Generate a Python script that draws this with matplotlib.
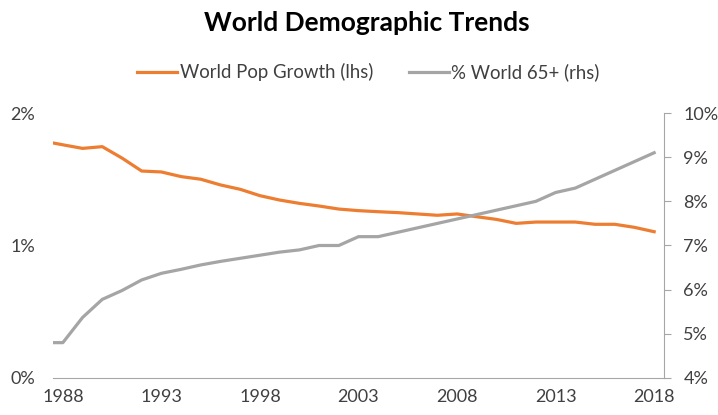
import numpy as np
import matplotlib.pyplot as plt
from matplotlib.ticker import FuncFormatter

# x positions: the series start half a year before the first labelled year
years = np.r_[1987.5, np.arange(1988, 2019)]

# world population growth, % (left axis)
pop_growth = [1.774, 1.76, 1.733, 1.746, 1.66, 1.562, 1.555, 1.52, 1.50, 1.457,
              1.424, 1.376, 1.343, 1.318, 1.298, 1.275, 1.263, 1.255, 1.248,
              1.238, 1.228, 1.238, 1.217, 1.197, 1.167, 1.177, 1.177, 1.177,
              1.16, 1.16, 1.137, 1.104]

# share of world population aged 65+, % (right axis)
pct_65 = [4.8, 4.8, 5.37, 5.78, 5.98, 6.22, 6.37, 6.46, 6.56, 6.64, 6.71,
          6.78, 6.85, 6.9, 7.0, 7.0, 7.2, 7.2, 7.3, 7.4, 7.5, 7.6, 7.7, 7.8,
          7.9, 8.0, 8.2, 8.3, 8.5, 8.7, 8.9, 9.1]

year_ticks = [1988, 1993, 1998, 2003, 2008, 2013, 2018]

plt.rcParams['font.family'] = ['Lato', 'DejaVu Sans']
ORANGE = '#ED7D31'
GREY = '#A5A5A5'
TXT = '#404040'

fig = plt.figure(figsize=(7.18, 4.15), dpi=100)
ax = fig.add_axes([0.0738, 0.0892, 0.851, 0.6385])
ax2 = ax.twinx()

l1, = ax.plot(years, pop_growth, color=ORANGE, lw=2.3, label='World Pop Growth (lhs)')
l2, = ax2.plot(years, pct_65, color=GREY, lw=2.3, label='% World 65+ (rhs)')

ax.set_xlim(1987.5, 2018.5)
ax.set_ylim(0, 2)
ax2.set_ylim(4, 10)
ax.set_yticks([0, 1, 2])
ax2.set_yticks(range(4, 11))
ax.set_xticks(year_ticks)
pct = FuncFormatter(lambda v, p: f'{v:.0f}%')
ax.yaxis.set_major_formatter(pct)
ax2.yaxis.set_major_formatter(pct)

for a in (ax, ax2):
    for s in a.spines.values():
        s.set_visible(False)
ax.spines['bottom'].set_visible(True)
ax.spines['bottom'].set_color('#A6A6A6')
ax2.spines['right'].set_visible(True)
ax2.spines['right'].set_color('#A6A6A6')

ax.tick_params(axis='y', length=0, pad=13, labelsize=13, labelcolor=TXT)
ax.tick_params(axis='x', length=0, pad=8, labelsize=13, labelcolor=TXT)
ax2.tick_params(axis='y', length=5, color='#A6A6A6', pad=9, labelsize=13,
                labelcolor=TXT)

fig.text(0.511, 0.945, 'World Demographic Trends', ha='center', va='center',
         fontsize=19, fontweight='bold', color='black')
fig.legend(handles=[l1, l2], loc='center', bbox_to_anchor=(0.513, 0.826),
           ncol=2, frameon=False, fontsize=13.4, handlelength=2.15,
           handletextpad=0.15, columnspacing=1.9, labelcolor=TXT)

fig.savefig('out.png', dpi=100)
